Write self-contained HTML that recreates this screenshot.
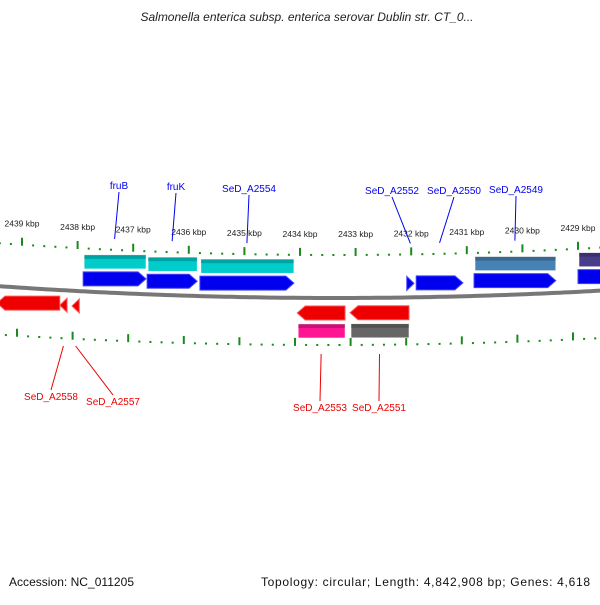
<!DOCTYPE html>
<html><head><meta charset="utf-8"><style>
body{margin:0;background:#fff;width:600px;height:600px;overflow:hidden;font-family:"Liberation Sans","DejaVu Sans",sans-serif}
</style></head><body>
<svg width="600" height="600" viewBox="0 0 600 600" xmlns="http://www.w3.org/2000/svg">
<text x="307" y="21" text-anchor="middle" font-size="12" font-style="italic" fill="#222">Salmonella enterica subsp. enterica serovar Dublin str. CT_0...</text>
<g id="ticks"></g>
<path id="backbone" fill="none" stroke="#777" stroke-width="4"/>
<g id="genes"></g>
<g id="labels"></g>
<text x="9" y="586" font-size="12" textLength="125" fill="#111">Accession: NC_011205</text>
<text x="261" y="586" font-size="12" textLength="329" fill="#111">Topology: circular; Length: 4,842,908 bp; Genes: 4,618</text>
</svg>
<script>
const kbpTicks=[2439,2438,2437,2436,2435,2434,2433,2432,2431,2430,2429];
const tickLabels=["2439 kbp","2438 kbp","2437 kbp","2436 kbp","2435 kbp","2434 kbp","2433 kbp","2432 kbp","2431 kbp","2430 kbp","2429 kbp"];
const geneNames=["fruB","fruK","SeD_A2554","SeD_A2552","SeD_A2550","SeD_A2549","X1","X2","SeD_A2558","SeD_A2557","SeD_A2553","SeD_A2551"];
const geneStart=[2437.90,2436.75,2435.80,2432.08,2431.91,2430.87,2429.00,2439.45,2438.32,2438.10,2434.05,2433.10];
const geneEnd=[2436.77,2435.85,2434.11,2431.95,2431.07,2429.40,2428.24,2438.32,2438.19,2437.97,2433.19,2432.04];
const geneStrand=[1,1,1,1,1,1,1,-1,-1,-1,-1,-1];
const cdsColor=["#00cccc","#00cccc","#00cccc",null,null,"#4682b4","#483d8b",null,null,null,"#ff1493","#666666"];
const NS="http://www.w3.org/2000/svg";
const x=k=>22+(2439-k)*55.6;
const cy=px=>-0.000105*(px-335)*(px-335);
const mk=(t,a,p)=>{const e=document.createElementNS(NS,t);for(const k in a)e.setAttribute(k,a[k]);p.appendChild(e);return e;};
const T=document.getElementById('ticks'),G=document.getElementById('genes'),L=document.getElementById('labels');
let d="";for(let px=-5;px<=605;px+=5){d+=(px<0?"M":"L")+px+" "+(298+cy(px)).toFixed(1);}
document.getElementById('backbone').setAttribute('d',d);
for(let k=2440;k>=2428;k-=0.2){const kk=Math.round(k*10)/10;const px=x(kk);if(px<-2||px>602)continue;
 const major=Math.abs(kk-Math.round(kk))<0.01;
 const yt=256+cy(px),yb=346+cy(px)*0.9;
 const t1=mk('rect',{x:px-1,y:major?yt-8:yt-2,width:2,height:major?8:2,fill:"#1a8a1a"},T);
 
 const t2=mk('rect',{x:px-6,y:major?yb-8:yb-2,width:2,height:major?8:2,fill:"#1a8a1a"},T);
 }
kbpTicks.forEach((k,i)=>{const px=x(k);const t=mk('text',{x:px,y:237+cy(px),'text-anchor':'middle','font-size':'8.5',fill:'#222'},T);t.textContent=tickLabels[i];
 });
geneNames.forEach((n,i)=>{const x1=Math.min(x(geneStart[i]),x(geneEnd[i])),x2=Math.max(x(geneStart[i]),x(geneEnd[i]));
 const m=(x1+x2)/2,o=cy(m);const top=geneStrand[i]>0;
 const ay=top?277+o:306+o; const h=14; const head=Math.min(8,(x2-x1));
 let pts=top?`${x1},${ay} ${x2-head},${ay} ${x2},${ay+h/2} ${x2-head},${ay+h} ${x1},${ay+h}`
            :`${x2},${ay} ${x1+head},${ay} ${x1},${ay+h/2} ${x1+head},${ay+h} ${x2},${ay+h}`;
 const a=mk('polygon',{points:pts,fill:top?"#0000ee":"#ee0000",stroke:top?"#4444ff":"#ff5555","stroke-width":1},G);
 
 if(cdsColor[i]){const by=top?ay-17:ay+18;const r=mk('rect',{x:x1+1,y:by,width:x2-x1-1,height:14,fill:cdsColor[i],stroke:"#fff","stroke-width":0.5},G);
  
  const s=mk('rect',{x:x1+1,y:by,width:x2-x1-1,height:4,fill:"#000",opacity:0.2},G);}
 if(n==="X1"||n==="X2")return;
 const lx=top?[119,176,249,392,454,516][i]:[51,113,320,379][i-8];
 const ly=top?[189,190,192,194,194,193][i]:[400,405,411,411][i-8];
 const ey=top?244+cy(m):(i<10?346:354);
 const col=top?"#0000ee":"#ee0000";
 const ln=mk('line',{x1:m,y1:ey,x2:lx,y2:top?ly+3:ly-10,stroke:col,"stroke-width":1},L);
 
 const t=mk('text',{x:lx,y:ly,'text-anchor':'middle','font-size':'10',fill:col},L);t.textContent=n;
 
});
</script>
</body></html>
